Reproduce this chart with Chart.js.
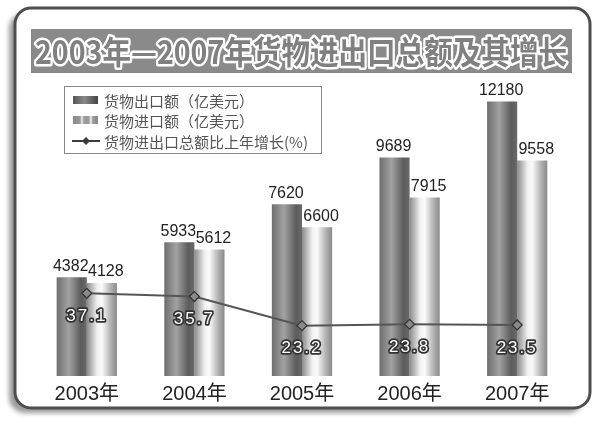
<!DOCTYPE html>
<html>
<head>
<meta charset="utf-8">
<script src="https://cdn.jsdelivr.net/npm/chart.js@4/dist/chart.umd.min.js"></script>
<style>
  html, body { margin: 0; padding: 0; background: #fff; }
  #c { display: block; }
</style>
</head>
<body>
<canvas id="c" width="600" height="428"></canvas>
<script>
const titleText = '2003年—2007年货物进出口总额及其增长';
const categories = ['2003年', '2004年', '2005年', '2006年', '2007年'];
const exportValues = [4382, 5933, 7620, 9689, 12180];
const importValues = [4128, 5612, 6600, 7915, 9558];
const growthValues = [37.1, 35.7, 23.2, 23.8, 23.5];
const seriesLabels = ['货物出口额（亿美元）', '货物进口额（亿美元）', '货物进出口总额比上年增长(%)'];

const CAT_PCT = 0.56;
const exportStops = [[0, '#6e6e6e'], [0.4, '#a2a2a2'], [0.8, '#5c5c5c'], [1, '#6a6a6a']];
const importStops = [[0, '#8a8a8a'], [0.35, '#f2f2f2'], [0.5, '#fafafa'], [0.8, '#b0b0b0'], [1, '#8a8a8a']];

function barGradient(ctx, stops, isImport) {
  const chart = ctx.chart;
  const xs = chart.scales && chart.scales.x;
  if (!chart.chartArea || !xs || ctx.type !== 'data') return stops[0][1];
  const center = xs.getPixelForValue(ctx.dataIndex);
  const w = (xs.width / categories.length) * CAT_PCT / 2;
  const left = isImport ? center : center - w;
  const g = chart.ctx.createLinearGradient(left, 0, left + w, 0);
  stops.forEach(s => g.addColorStop(s[0], s[1]));
  return g;
}

function roundRect(ctx, x, y, w, h, r) {
  ctx.beginPath();
  ctx.moveTo(x + r, y);
  ctx.lineTo(x + w - r, y);
  ctx.arcTo(x + w, y, x + w, y + r, r);
  ctx.lineTo(x + w, y + h - r);
  ctx.arcTo(x + w, y + h, x + w - r, y + h, r);
  ctx.lineTo(x + r, y + h);
  ctx.arcTo(x, y + h, x, y + h - r, r);
  ctx.lineTo(x, y + r);
  ctx.arcTo(x, y, x + r, y, r);
  ctx.closePath();
}

const framePlugin = {
  id: 'frame',
  beforeDraw(chart) {
    const ctx = chart.ctx;
    ctx.save();
    ctx.fillStyle = '#fff';
    ctx.fillRect(0, 0, chart.width, chart.height);
    ctx.shadowColor = 'rgba(0,0,0,0.4)';
    ctx.shadowBlur = 5;
    ctx.shadowOffsetX = -6;
    ctx.shadowOffsetY = 5;
    roundRect(ctx, 15, 8, 575, 400, 16);
    ctx.fillStyle = '#fff';
    ctx.fill();
    ctx.shadowColor = 'transparent';
    ctx.lineWidth = 3;
    ctx.strokeStyle = '#4e4e4e';
    ctx.stroke();
    ctx.fillStyle = '#8a8a8a';
    ctx.fillRect(31, 29, 541, 44);
    ctx.font = "bold 32px 'Noto Sans CJK SC'";
    ctx.textAlign = 'center';
    ctx.textBaseline = 'middle';
    ctx.lineJoin = 'round';
    ctx.lineWidth = 5;
    ctx.strokeStyle = '#ffffff';
    ctx.strokeText(titleText, 301, 52, 532);
    ctx.fillStyle = '#808080';
    ctx.fillText(titleText, 301, 52, 532);
    ctx.restore();
  },
  afterDraw(chart) {
    const ctx = chart.ctx;
    ctx.save();
    ctx.strokeStyle = '#8a8a8a';
    ctx.lineWidth = 1;
    ctx.strokeRect(64.5, 86.5, 257, 67);
    const rows = [100, 120, 141];
    let g = ctx.createLinearGradient(73, 0, 98, 0);
    g.addColorStop(0, '#555'); g.addColorStop(0.45, '#8a8a8a'); g.addColorStop(1, '#444');
    ctx.fillStyle = g;
    ctx.fillRect(73, rows[0] - 4, 25, 8);
    g = ctx.createLinearGradient(73, 0, 98, 0);
    g.addColorStop(0, '#888'); g.addColorStop(0.28, '#999'); g.addColorStop(0.36, '#eee');
    g.addColorStop(0.44, '#999'); g.addColorStop(0.62, '#999'); g.addColorStop(0.72, '#eee');
    g.addColorStop(0.8, '#999'); g.addColorStop(1, '#888');
    ctx.fillStyle = g;
    ctx.fillRect(73, rows[1] - 4, 25, 8);
    ctx.strokeStyle = '#3c3c3c';
    ctx.lineWidth = 2;
    ctx.beginPath(); ctx.moveTo(72, rows[2]); ctx.lineTo(100, rows[2]); ctx.stroke();
    ctx.fillStyle = '#3c3c3c';
    ctx.beginPath();
    ctx.moveTo(86, rows[2] - 4); ctx.lineTo(90, rows[2]); ctx.lineTo(86, rows[2] + 4); ctx.lineTo(82, rows[2]);
    ctx.closePath(); ctx.fill();
    ctx.font = "15px 'Noto Sans CJK SC'";
    ctx.fillStyle = '#555';
    ctx.textAlign = 'left';
    ctx.textBaseline = 'middle';
    chart.data.datasets.forEach((ds, i) => {
      ctx.fillText(ds.label, 104, rows[i] + 1);
    });
    ctx.restore();
  },
  afterDatasetsDraw(chart) {
    const ctx = chart.ctx;
    ctx.save();
    ctx.textAlign = 'center';
    ctx.lineJoin = 'round';
    [0, 1].forEach(di => {
      const meta = chart.getDatasetMeta(di);
      const vals = chart.data.datasets[di].data;
      meta.data.forEach((el, i) => {
        ctx.font = "16px 'Liberation Sans', 'DejaVu Sans'";
        ctx.textBaseline = 'bottom';
        const x = el.x + (di === 1 ? 4 : -1);
        const y = el.y - 3;
        ctx.lineWidth = 3;
        ctx.strokeStyle = '#fff';
        ctx.strokeText(String(vals[i]), x, y);
        ctx.fillStyle = '#222';
        ctx.fillText(String(vals[i]), x, y);
      });
    });
    const lm = chart.getDatasetMeta(2);
    const lv = chart.data.datasets[2].data;
    if ('letterSpacing' in ctx) ctx.letterSpacing = '2px';
    lm.data.forEach((el, i) => {
      ctx.font = "17px 'Liberation Sans', 'DejaVu Sans'";
      ctx.textBaseline = 'middle';
      const t = lv[i].toFixed(1);
      const x = el.x;
      const y = el.y + 23;
      ctx.lineWidth = 3.5;
      ctx.strokeStyle = '#333';
      ctx.strokeText(t, x, y);
      ctx.fillStyle = '#fff';
      ctx.fillText(t, x, y);
    });
    ctx.restore();
  }
};

new Chart(document.getElementById('c'), {
  data: {
    labels: categories,
    datasets: [
      {
        type: 'bar',
        label: seriesLabels[0],
        data: exportValues,
        yAxisID: 'y',
        order: 1,
        backgroundColor: ctx => barGradient(ctx, exportStops, false),
        borderWidth: 0,
        categoryPercentage: CAT_PCT,
        barPercentage: 1
      },
      {
        type: 'bar',
        label: seriesLabels[1],
        data: importValues,
        yAxisID: 'y',
        order: 1,
        backgroundColor: ctx => barGradient(ctx, importStops, true),
        borderWidth: 0,
        categoryPercentage: CAT_PCT,
        barPercentage: 1
      },
      {
        type: 'line',
        label: seriesLabels[2],
        data: growthValues,
        yAxisID: 'y2',
        order: 0,
        borderColor: '#555',
        borderWidth: 2,
        pointStyle: 'rectRot',
        pointRadius: 5,
        pointBackgroundColor: '#8a8a8a',
        pointBorderColor: '#333',
        pointBorderWidth: 1.2,
        tension: 0
      }
    ]
  },
  options: {
    responsive: false,
    animation: false,
    devicePixelRatio: 1,
    layout: { padding: { left: 33, right: 29, top: 83, bottom: 16 } },
    plugins: { legend: { display: false }, tooltip: { enabled: false }, title: { display: false } },
    scales: {
      x: {
        grid: { display: false, drawTicks: false },
        border: { display: false },
        ticks: { padding: 6, color: '#222', font: { size: 20, family: "'Liberation Sans', 'Noto Sans CJK SC'" } }
      },
      y: { display: false, min: 0, max: 13000 },
      y2: { display: false, min: 1.6, max: 127.35, position: 'right' }
    }
  },
  plugins: [framePlugin]
});
</script>
</body>
</html>
